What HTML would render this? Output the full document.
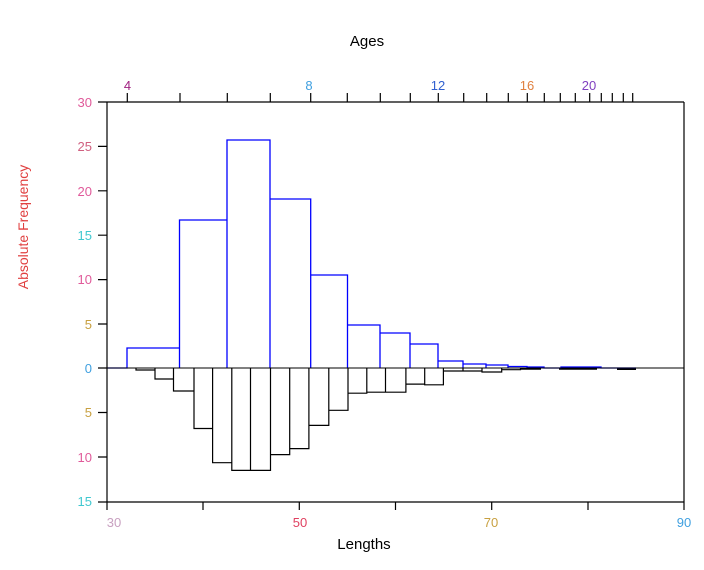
<!DOCTYPE html>
<html><head><meta charset="utf-8"><style>
html,body{margin:0;padding:0;background:#fff;}
svg{display:block;}
text{font-family:"Liberation Sans",Arial,sans-serif;}
</style></head><body>
<svg width="704" height="570" viewBox="0 0 704 570" xmlns="http://www.w3.org/2000/svg">
<rect width="704" height="570" fill="#fff"/>
<!-- black (negative) bars -->
<g fill="none" stroke="#000" stroke-width="1.2">
<path d="M136,368V370H155V368 M155,368V379H173.5V368 M173.5,368V391H194V368 M194,368V428.5H212.6V368 M212.6,368V462.7H231.8V368 M231.8,368V470.4H250.5V368 M250.5,368V470.4H270.5V368 M270.5,368V454.6H289.7V368 M289.7,368V448.6H308.9V368 M308.9,368V425.4H328.8V368 M328.8,368V410.3H348V368 M348,368V393.2H366.8V368 M366.8,368V392.2H385.5V368 M385.5,368V392.2H405.9V368 M405.9,368V384.1H424.7V368 M424.7,368V384.8H443.4V368 M443.4,368V371H463V368 M463,368V371H482V368 M482,368V372H501.7V368 M501.7,368V369.7H520.5V368"/>
</g>
<g stroke="#000" stroke-width="2">
<line x1="520" y1="368.8" x2="541" y2="368.8"/>
<line x1="559" y1="368.8" x2="597" y2="368.8"/>
<line x1="617" y1="369" x2="636" y2="369"/>
</g>
<!-- blue (positive) histogram -->
<path d="M107,368H127V348H179.5V368 M179.5,368V220H227V368 M227,368V140H270V368 M270,368V199H310.7V368 M310.7,368V275H347.5V368 M347.5,368V325H380V368 M380,368V333H410V368 M410,368V344H438V368 M438,368V361H463V368 M463,368V364H486V368 M486,368V365H508V368 M508,368V366.5H527V368 M527,368V367H544V368 H561V367H601V368H636" fill="none" stroke="#0000ff" stroke-width="1.3"/>
<!-- zero line -->
<line x1="107" y1="368" x2="684" y2="368" stroke="#000" stroke-width="1"/>
<!-- frame -->
<g stroke="#000" stroke-width="1.2" fill="none">
<line x1="98" y1="102" x2="684" y2="102"/>
<line x1="98" y1="502" x2="684" y2="502"/>
<line x1="107" y1="102" x2="107" y2="502"/>
<line x1="684" y1="102" x2="684" y2="510"/>
<!-- left ticks -->
<path d="M98,146.4H107 M98,190.8H107 M98,235.2H107 M98,279.6H107 M98,324H107 M98,368H107 M98,412.5H107 M98,457H107"/>
<!-- bottom ticks -->
<path d="M107,502V510 M203,502V510 M299.3,502V510 M395.5,502V510 M491.7,502V510 M588,502V510"/>
<!-- top ticks -->
<path d="M127.3,102V93 M180,102V93 M227.3,102V93 M270.3,102V93 M310.7,102V93 M347.3,102V93 M380.3,102V93 M410.3,102V93 M438.3,102V93 M463.7,102V93 M486.7,102V93 M508.3,102V93 M527.3,102V93 M544.3,102V93 M560.3,102V93 M575.3,102V93 M589.7,102V93 M601.3,102V93 M612.3,102V93 M623.3,102V93 M632.7,102V93"/>
</g>
<!-- y labels -->
<g font-size="13" text-anchor="end">
<text x="92" y="107" fill="#e05a9a">30</text>
<text x="92" y="151" fill="#d06080">25</text>
<text x="92" y="196" fill="#e05a9a">20</text>
<text x="92" y="240" fill="#40c8d0">15</text>
<text x="92" y="284" fill="#e05a9a">10</text>
<text x="92" y="329" fill="#c8a040">5</text>
<text x="92" y="373" fill="#40a0e0">0</text>
<text x="92" y="417" fill="#c8a040">5</text>
<text x="92" y="462" fill="#e05a9a">10</text>
<text x="92" y="506" fill="#40c8d0">15</text>
</g>
<!-- x labels -->
<g font-size="13" text-anchor="middle">
<text x="114" y="527" fill="#c8a0c0">30</text>
<text x="300" y="527" fill="#e04060">50</text>
<text x="491" y="527" fill="#c8a040">70</text>
<text x="684" y="527" fill="#40a0e0">90</text>
</g>
<!-- top labels -->
<g font-size="13" text-anchor="middle">
<text x="127.5" y="90" fill="#a02080">4</text>
<text x="309" y="90" fill="#40a0e0">8</text>
<text x="438" y="90" fill="#3060d0">12</text>
<text x="527" y="90" fill="#e08040">16</text>
<text x="589" y="90" fill="#8040c0">20</text>
</g>
<text x="367" y="46" font-size="15" text-anchor="middle" fill="#000">Ages</text>
<text x="364" y="549" font-size="15" text-anchor="middle" fill="#000">Lengths</text>
<text transform="translate(28,227) rotate(-90)" font-size="14" text-anchor="middle" fill="#e04040">Absolute Frequency</text>
</svg>
</body></html>
